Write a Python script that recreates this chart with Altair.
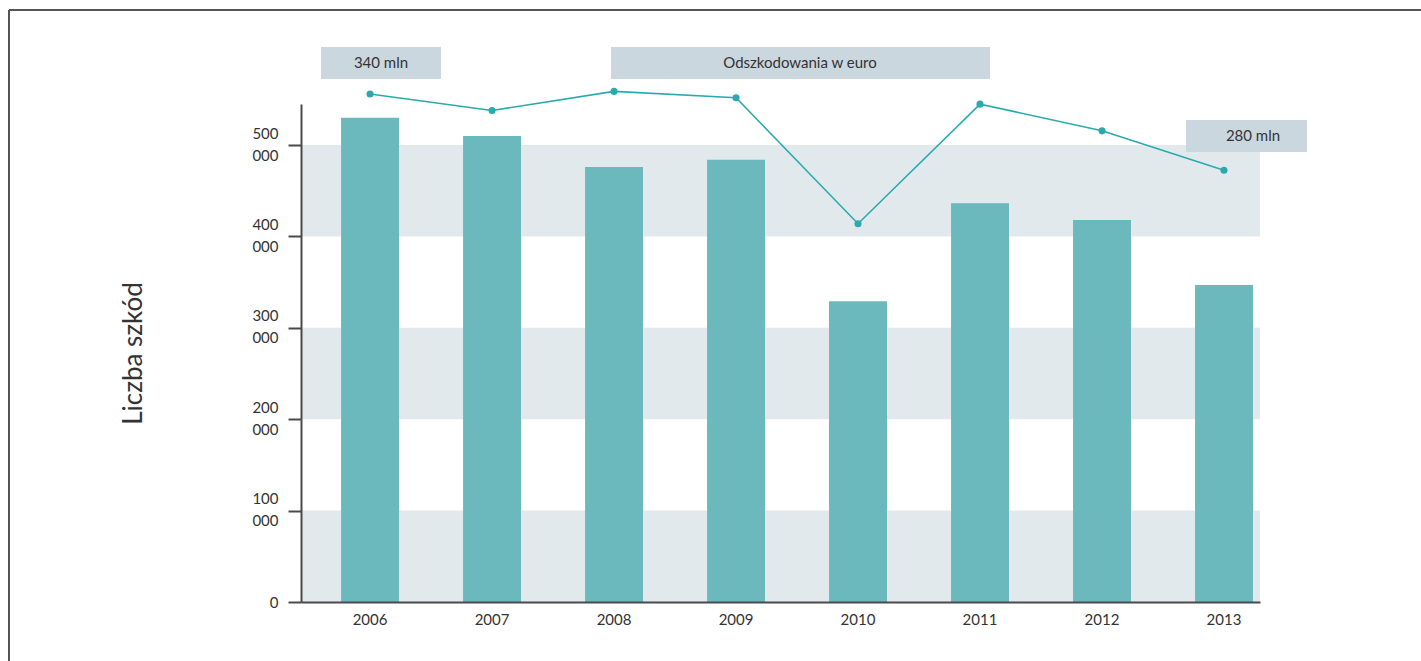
import altair as alt
import pandas as pd

# ---- data ----
years = ["2006", "2007", "2008", "2009", "2010", "2011", "2012", "2013"]
claims = [530000, 510000, 476000, 484000, 329000, 436500, 418000, 347000]
euro_mln = [340, 327, 342, 337, 238, 332, 311, 280]
band_lo = [0, 200000, 400000]
band_hi = [100000, 300000, 500000]
y_ticks = [0, 100000, 200000, 300000, 400000, 500000]
box_labels = ["340 mln", "Odszkodowania w euro", "280 mln"]
y_title = "Liczba szkód"

df = pd.DataFrame({"year": years, "claims": claims, "euro": euro_mln})
bands_df = pd.DataFrame({"lo": band_lo, "hi": band_hi})

FONT = "Lato"
TEXT = "#333333"
AXIS = "#4a4a4a"
BAR = "#6bb9bd"
LINE = "#2aaaae"
BAND = "#e1e9ec"
BOX = "#cad7df"

xscale = alt.Scale(paddingInner=0.525, paddingOuter=0.193, align=0.851)
yscale = alt.Scale(domain=[0, 545000], nice=False, zero=True)
escale = alt.Scale(domain=[-59.4, 332.1], nice=False, zero=False)

xaxis = alt.Axis(
    title=None, labelAngle=0, ticks=False, domainColor=AXIS, domainWidth=2,
    labelPadding=10, labelFontSize=15, labelFont=FONT, labelColor=TEXT, zindex=1)

bands = alt.Chart(bands_df).mark_rect(color=BAND).encode(
    x=alt.value(0), x2=alt.value("width"),
    y=alt.Y("lo:Q", scale=yscale, axis=None), y2="hi:Q",
)

bars = alt.Chart(df).mark_bar(color=BAR).encode(
    x=alt.X("year:O", scale=xscale, axis=xaxis),
    y=alt.Y("claims:Q", scale=yscale, axis=alt.Axis(
        values=y_ticks,
        labelExpr="datum.value == 0 ? '0' : [format(datum.value/1000, 'd'), '000']",
        labelFontSize=15, labelFont=FONT, labelColor=TEXT, labelLineHeight=22,
        labelPadding=10, labelBaseline="middle",
        labelOffset={"condition": {"test": "datum.value == 0", "value": 0}, "value": -12},
        tickSize=13, tickColor=AXIS, tickWidth=2, domainColor=AXIS, domainWidth=2,
        grid=False, zindex=1,
        title=y_title, titleFont=FONT, titleFontSize=26, titleFontWeight="normal",
        titleColor=TEXT, titleX=-168, titleY=249, titleAngle=270,
        titleAlign="center", titleBaseline="middle")),
)

line = alt.Chart(df).mark_line(color=LINE, strokeWidth=1.6, clip=False).encode(
    x=alt.X("year:O", scale=xscale, axis=xaxis),
    y=alt.Y("euro:Q", scale=escale, axis=None),
)
points = alt.Chart(df).mark_circle(color=LINE, size=50, opacity=1, clip=False).encode(
    x=alt.X("year:O", scale=xscale, axis=xaxis),
    y=alt.Y("euro:Q", scale=escale, axis=None),
)


def label_box(text, x0, x1, y0, y1, tx):
    d = pd.DataFrame({"t": [text]})
    rect = alt.Chart(d).mark_rect(color=BOX).encode(
        x=alt.value(x0), x2=alt.value(x1), y=alt.value(y0), y2=alt.value(y1))
    txt = alt.Chart(d).mark_text(font=FONT, fontSize=15, color=TEXT, align="center",
                                 baseline="middle").encode(
        x=alt.value(tx), y=alt.value((y0 + y1) / 2), text="t:N")
    return [rect, txt]


boxes = (label_box(box_labels[0], 20, 140, -57, -25, 80)
         + label_box(box_labels[1], 310, 689, -57, -25, 499)
         + label_box(box_labels[2], 885, 1006, 16, 48, 952))

one = pd.DataFrame({"a": [0]})
frame_top = alt.Chart(one).mark_rule(color="#555555", strokeWidth=2).encode(
    x=alt.value(-292), x2=alt.value(1120), y=alt.value(-94))
frame_left = alt.Chart(one).mark_rule(color="#555555", strokeWidth=2).encode(
    x=alt.value(-292), y=alt.value(-94), y2=alt.value(557))

chart = alt.layer(bands, bars, line, points, *boxes, frame_top, frame_left).resolve_scale(
    y="independent"
).properties(
    width=959, height=498,
    padding={"left": 301, "top": 104, "right": 161, "bottom": 59},
    autosize=alt.AutoSizeParams(type="none"),
).configure_view(stroke=None)

chart.save("out.html", embed_options={"renderer": "svg", "actions": False})
